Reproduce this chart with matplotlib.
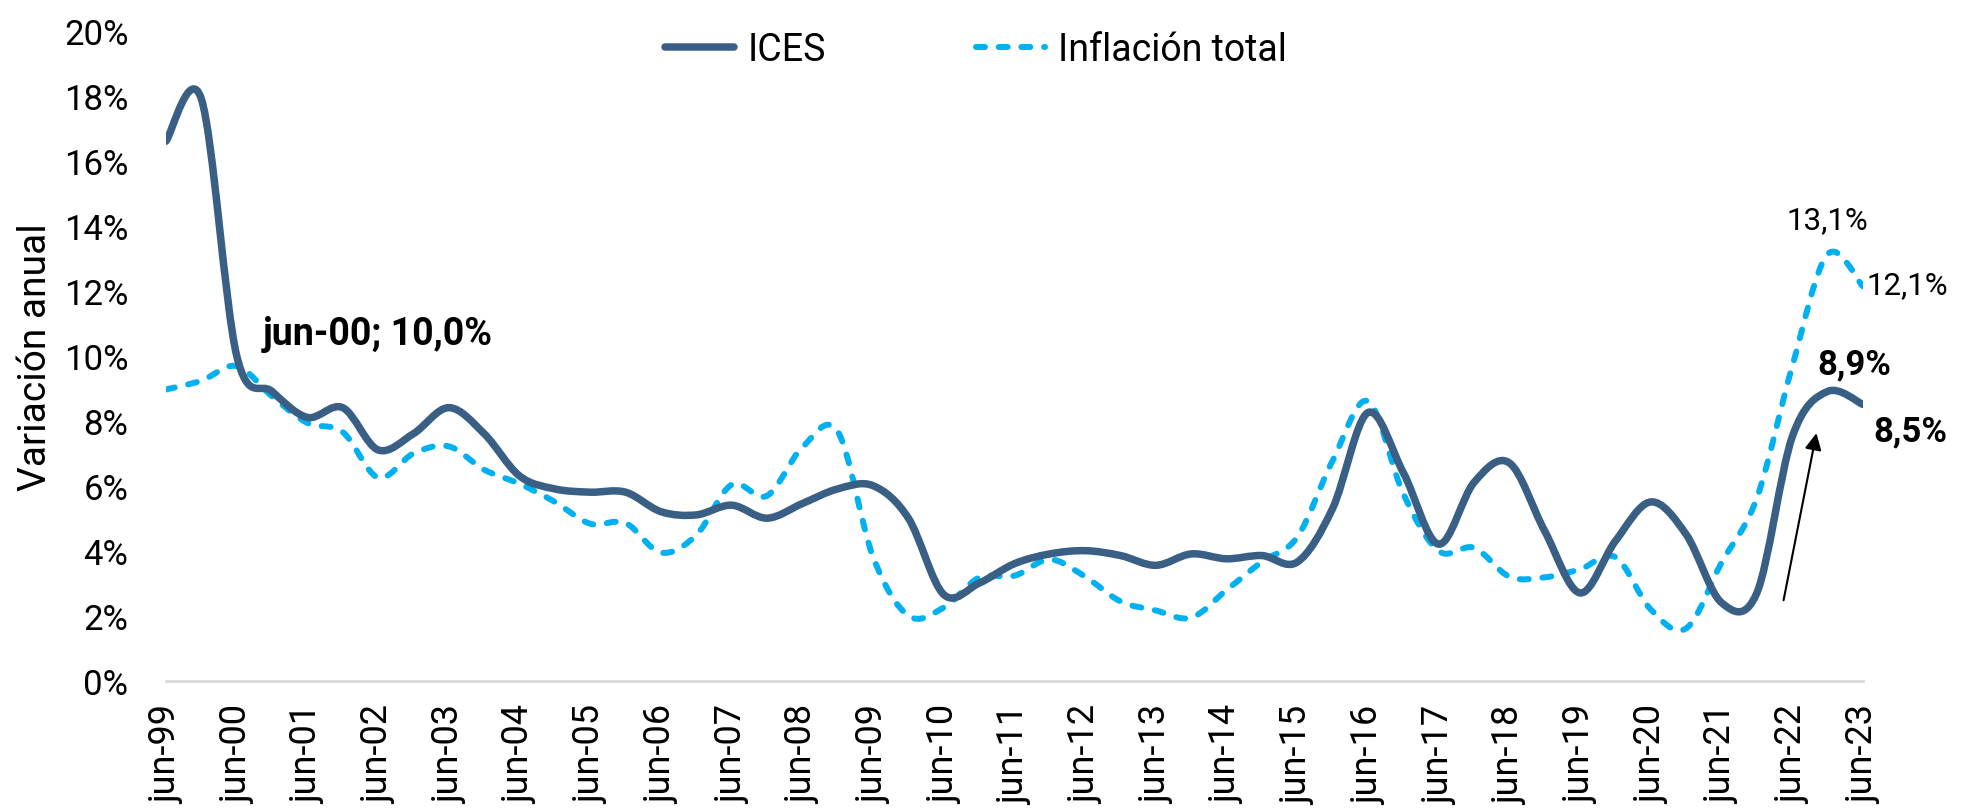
import numpy as np
import matplotlib
matplotlib.use("Agg")
import matplotlib.pyplot as plt
from matplotlib.path import Path
from matplotlib.patches import PathPatch
from matplotlib.lines import Line2D

# semiannual data, jun-99 .. jun-23 (jun / dec)
periods = []
for yr in range(1999, 2024):
    periods.append("jun-%02d" % (yr % 100))
    if yr < 2023:
        periods.append("dic-%02d" % (yr % 100))

ices = [16.6, 17.9, 10.0, 8.9, 8.1, 8.4, 7.1, 7.6, 8.4, 7.6,
        6.3, 5.9, 5.8, 5.8, 5.2, 5.1, 5.4, 5.0, 5.45, 5.9,
        6.0, 5.0, 2.65, 3.0, 3.6, 3.9, 4.0, 3.85, 3.55, 3.9,
        3.75, 3.85, 3.65, 5.3, 8.25, 6.4, 4.2, 6.1, 6.7, 4.6,
        2.7, 4.3, 5.5, 4.5, 2.4, 2.7, 7.5, 8.9, 8.5]

inflacion = [8.96, 9.23, 9.68, 8.75, 7.93, 7.65, 6.25, 6.99, 7.21, 6.49,
             6.06, 5.50, 4.83, 4.85, 3.94, 4.48, 6.03, 5.69, 7.18, 7.67,
             3.81, 2.00, 2.25, 3.17, 3.23, 3.73, 3.20, 2.44, 2.16, 1.94,
             2.79, 3.66, 4.42, 6.77, 8.60, 5.75, 3.99, 4.09, 3.20, 3.18,
             3.43, 3.80, 2.19, 1.61, 3.63, 5.62, 9.67, 13.12, 12.13]

tick_labels = [p for p in periods if p.startswith("jun")]

ICES_COLOR = "#3A5F84"
INF_COLOR = "#00B0F0"

plt.rcParams["font.family"] = ["Roboto", "DejaVu Sans"]


def smooth_path(x, y):
    # excel-like smoothed line (catmull-rom as cubic bezier)
    n = len(x)
    verts = [(x[0], y[0])]
    codes = [Path.MOVETO]
    for i in range(n - 1):
        a = i - 1 if i > 0 else i
        d = i + 2 if i + 2 < n else i + 1
        c1 = (x[i] + (x[i + 1] - x[a]) / 6, y[i] + (y[i + 1] - y[a]) / 6)
        c2 = (x[i + 1] - (x[d] - x[i]) / 6, y[i + 1] - (y[d] - y[i]) / 6)
        verts += [c1, c2, (x[i + 1], y[i + 1])]
        codes += [Path.CURVE4] * 3
    return Path(verts, codes)


x = np.arange(len(periods))

fig = plt.figure(figsize=(19.62, 8.12), dpi=100)
ax = fig.add_axes([0.0846, 0.1605, 0.8649, 0.8005])

dash = (0, (1.5, 2.3))
p_inf = PathPatch(smooth_path(x, inflacion), fill=False, edgecolor=INF_COLOR,
                  lw=4.3, linestyle=dash, capstyle="round", joinstyle="round")
p_ices = PathPatch(smooth_path(x, ices), fill=False, edgecolor=ICES_COLOR,
                   lw=5.4, capstyle="round", joinstyle="round")
ax.add_patch(p_inf)
ax.add_patch(p_ices)

ax.set_xlim(0, len(periods) - 1)
ax.set_ylim(0, 20)
ax.set_yticks(np.arange(0, 21, 2))
ax.set_yticklabels(["%d%%" % v for v in range(0, 21, 2)], fontsize=25)
ax.set_xticks(x[::2])
ax.set_xticklabels(tick_labels, rotation=90, fontsize=26)
ax.tick_params(axis="y", length=0, pad=27)
ax.tick_params(axis="x", length=0, pad=17)
for s in ["top", "right", "left"]:
    ax.spines[s].set_visible(False)
ax.spines["bottom"].set_color("#d9d9d9")
ax.spines["bottom"].set_linewidth(2)

fig.text(0.018, 0.56, "Variación anual", rotation=90, fontsize=28,
         va="center", ha="center")

handles = [Line2D([], [], color=ICES_COLOR, lw=5.4, solid_capstyle="round"),
           Line2D([], [], color=INF_COLOR, lw=4.3, linestyle=dash,
                  dash_capstyle="round")]
fig.legend(handles, ["ICES", "Inflación total"], loc="center",
           bbox_to_anchor=(0.4975, 0.938), ncol=2, frameon=False, fontsize=27,
           handlelength=1.85, handletextpad=0.35, columnspacing=4.0)

# annotations
ax.text(2.74, 10.67, "jun-00; 10,0%", fontsize=27, fontweight="bold",
        va="center", ha="left")
ax.text(47.0, 14.2, "13,1%", fontsize=22.5, va="center", ha="center")
ax.text(48.1, 12.2, "12,1%", fontsize=22.5, va="center", ha="left")
ax.text(47.75, 9.74, "8,9%", fontsize=25, fontweight="bold",
        va="center", ha="center")
ax.text(48.3, 7.68, "8,5%", fontsize=25, fontweight="bold",
        va="center", ha="left")
ax.annotate("", xy=(46.7, 7.7), xytext=(45.74, 2.39),
            arrowprops=dict(arrowstyle="-|>", color="black", lw=1.5,
                            mutation_scale=25))

fig.savefig("out.png", dpi=100)
